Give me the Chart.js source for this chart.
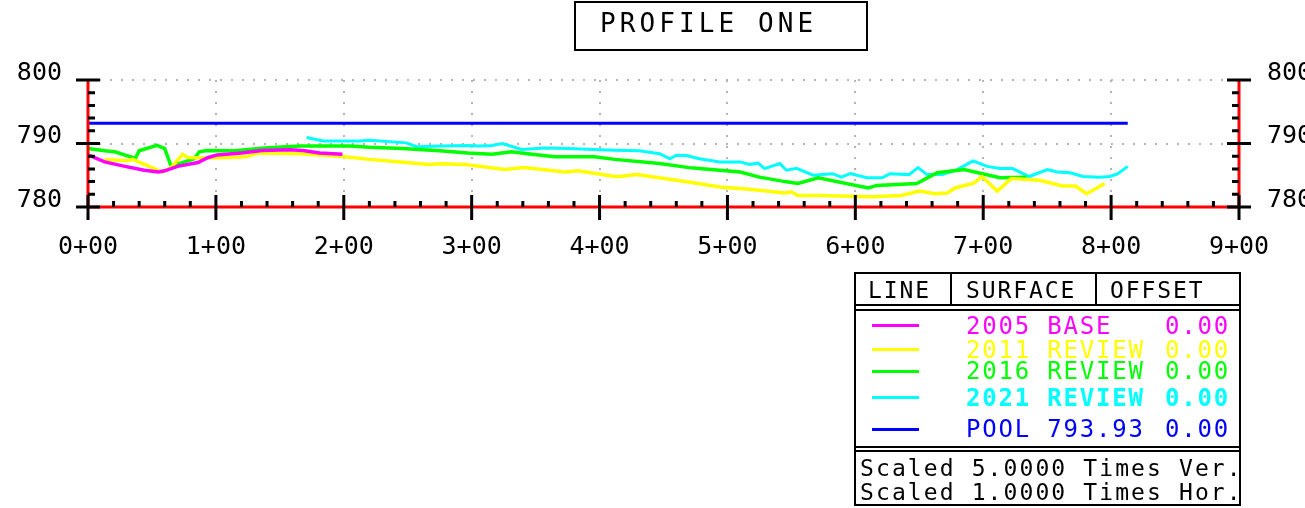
<!DOCTYPE html>
<html>
<head>
<meta charset="utf-8">
<title>Profile One</title>
<script src="https://cdn.jsdelivr.net/npm/chart.js@4.4.1/dist/chart.umd.min.js"></script>
<style>
  html, body { margin: 0; padding: 0; background: #fff; }
  #wrap { position: relative; width: 1305px; height: 508px; overflow: hidden; }
  #wrap canvas { position: absolute; left: 0; top: 0; }
  .cad { position: absolute; font-family: "DejaVu Sans Mono", monospace; white-space: pre; color: #000; }
  .box { position: absolute; box-sizing: border-box; border: 2px solid #000; }
  .rule { position: absolute; background: #000; }
</style>
</head>
<body>
<div id="wrap">
  <canvas id="profile" width="1305" height="508"></canvas>
  <div class="box" style="left:574px;top:1px;width:294px;height:50px"></div>
  <div class="cad" style="left:600px;top:10px;font-size:26px;line-height:26px;letter-spacing:4.1px">PROFILE ONE</div>
  <div id="legend"></div>
</div>
<script>
// station (ft) / elevation pairs
const base2005 = [[0,788.2],[13,787.1],[29,786.4],[44,785.8],[55,785.5],[60,785.7],[70,786.4],[86,787.0],
  [94,787.8],[101,788.2],[120,788.5],[136,788.9],[158,789.0],[168,788.9],[181,788.5],[199,788.3]];

const review2011 = [[13,787.5],[31,787.3],[35,787.5],[58,785.5],[65,786.2],[74,788.3],[78,787.8],[91,787.7],
  [109,787.8],[123,787.9],[133,788.5],[166,788.4],[197,788.0],[220,787.5],[244,787.1],[267,786.7],[275,786.8],
  [295,786.7],[326,785.9],[341,786.2],[373,785.5],[383,785.7],[412,784.8],[416,784.8],[429,785.1],[471,783.9],
  [494,783.15],[517,782.8],[545,782.2],[550,782.4],[555,781.8],[571,781.8],[597,781.7],[613,781.6],[636,781.8],
  [650,782.5],[662,782.1],[672,782.2],[678,783.0],[693,783.8],[699,784.8],[711,782.5],[722,784.5],[744,784.2],
  [762,783.3],[772,783.3],[781,782.1],[795,783.7]];

const review2016 = [[0,789.2],[13,788.85],[21,788.7],[37,787.65],[40,788.85],[54,789.7],[60,789.2],[65,786.4],
  [83,787.6],[87,788.7],[93,788.9],[115,788.85],[138,789.3],[166,789.6],[205,789.6],[220,789.4],[246,789.2],
  [275,788.85],[297,788.5],[316,788.3],[331,788.7],[347,788.3],[365,787.9],[396,787.9],[412,787.5],[447,786.85],
  [470,786.2],[478,786.05],[510,785.5],[525,784.7],[545,784.0],[555,783.7],[571,784.6],[610,783.0],[617,783.4],
  [648,783.7],[664,785.4],[685,785.9],[713,784.6],[734,784.7]];

const review2021 = [[171,790.95],[184,790.4],[212,790.4],[220,790.5],[249,790.1],[257,789.5],[275,789.6],
  [297,789.7],[306,789.6],[316,789.7],[324,790.0],[339,789.05],[357,789.3],[375,789.2],[412,788.95],[431,788.85],
  [447,788.4],[455,787.6],[460,788.15],[468,788.1],[478,787.6],[494,787.1],[510,787.1],[517,786.7],[524,786.9],
  [529,786.05],[541,786.85],[546,785.8],[554,786.1],[567,785.0],[582,785.25],[589,784.7],[596,785.25],
  [609,784.6],[621,784.6],[627,785.25],[642,785.1],[649,786.2],[656,785.1],[668,785.1],[679,785.8],[692,787.25],
  [703,786.4],[713,786.05],[723,786.05],[736,784.8],[750,785.9],[758,785.5],[768,785.4],[778,784.8],[791,784.7],
  [799,784.8],[805,785.2],[813,786.4]];

const pool = [[0,793.2],[813,793.2]];

const stationLabels = ['0+00','1+00','2+00','3+00','4+00','5+00','6+00','7+00','8+00','9+00'];
const elevLabels = ['780','790','800'];

const surfaceNames = ['2005 BASE','2011 REVIEW','2016 REVIEW','2021 REVIEW','POOL 793.93'];
const offsets = ['0.00','0.00','0.00','0.00','0.00'];
const scaleNotes = ['Scaled 5.0000 Times Ver.','Scaled 1.0000 Times Hor.'];

// styling
const lineColors = ['#ff00ff','#ffff00','#00ff00','#00ffff','#0000ff'];
const lineWidths = [3.5, 3.5, 3.5, 3, 3];
const series = [base2005, review2011, review2016, review2021, pool];

const toXY = arr => arr.map(p => ({ x: p[0], y: p[1] }));

/* axis lines + CAD style tick marks */
const axisMarks = {
  id: 'axisMarks',
  afterDraw(chart) {
    const { ctx } = chart;
    const x = chart.scales.x, y = chart.scales.y;
    const l = x.getPixelForValue(0), r = x.getPixelForValue(900);
    const t = y.getPixelForValue(800), b = y.getPixelForValue(780);
    ctx.save();
    ctx.strokeStyle = '#ff0000';
    ctx.lineWidth = 3;
    ctx.beginPath();
    ctx.moveTo(l, t); ctx.lineTo(l, b);
    ctx.moveTo(l, b); ctx.lineTo(r, b);
    ctx.moveTo(r, t); ctx.lineTo(r, b);
    ctx.stroke();

    ctx.strokeStyle = '#000';
    ctx.lineWidth = 3;
    ctx.beginPath();
    for (let s = 0; s <= 900; s += 20) {
      const px = x.getPixelForValue(s);
      if (s % 100 === 0) {
        ctx.moveTo(px, b - 12); ctx.lineTo(px, b + 13);
      } else {
        ctx.moveTo(px, b - 6); ctx.lineTo(px, b);
      }
    }
    for (let e = 780; e <= 800; e += 2) {
      const py = y.getPixelForValue(e);
      if (e % 10 === 0) {
        ctx.moveTo(l - 12, py); ctx.lineTo(l + 12, py);
        ctx.moveTo(r - 12, py); ctx.lineTo(r + 12, py);
      } else {
        ctx.moveTo(l, py); ctx.lineTo(l + 7, py);
        ctx.moveTo(r - 7, py); ctx.lineTo(r, py);
      }
    }
    ctx.stroke();
    ctx.restore();
  }
};

const tickFont = { family: 'DejaVu Sans Mono', size: 25 };
const dotted = { display: false, dash: [2, 9] };

new Chart(document.getElementById('profile'), {
  type: 'line',
  data: {
    datasets: series.map((s, i) => ({
      label: surfaceNames[i],
      data: toXY(s),
      borderColor: lineColors[i],
      borderWidth: lineWidths[i],
      pointRadius: 0,
      tension: 0,
      fill: false
    }))
  },
  options: {
    responsive: false,
    animation: false,
    events: [],
    layout: { padding: { left: 0, right: 0, top: 80, bottom: 241 } },
    plugins: { legend: { display: false }, tooltip: { enabled: false } },
    scales: {
      x: {
        type: 'linear', min: 0, max: 900,
        afterFit: s => { s.height = 60; },
        ticks: { stepSize: 100, padding: 25, color: '#000', font: tickFont, maxRotation: 0, autoSkip: false,
                 callback: (v, i) => stationLabels[i] },
        grid: { color: '#b4b4b4', lineWidth: 2, drawTicks: false },
        border: dotted
      },
      y: {
        min: 780, max: 800, position: 'left',
        afterFit: s => { s.width = 88; },
        ticks: { stepSize: 10, padding: 26, labelOffset: -7, color: '#000', font: tickFont,
                 callback: (v, i) => elevLabels[i] },
        grid: { color: '#b4b4b4', lineWidth: 2, drawTicks: false },
        border: dotted
      },
      y2: {
        min: 780, max: 800, position: 'right',
        afterFit: s => { s.width = 66; },
        ticks: { stepSize: 10, padding: 28, labelOffset: -7, color: '#000', font: tickFont,
                 callback: (v, i) => elevLabels[i] },
        grid: { display: false, drawTicks: false },
        border: { display: false }
      }
    }
  },
  plugins: [axisMarks]
});

/* legend table */
const legendEl = document.getElementById('legend');
const put = html => legendEl.insertAdjacentHTML('beforeend', html);
const rowTop = [314, 338, 359, 386, 417];
const sampleY = [325, 349, 371, 397, 429];
const rowWeight = ['normal','normal','normal','bold','normal'];

put('<div class="box" style="left:854px;top:272px;width:387px;height:234px"></div>');
[304, 309, 446, 450].forEach(t => put(`<div class="rule" style="left:854px;top:${t}px;width:387px;height:2px"></div>`));
[950, 1095].forEach(l => put(`<div class="rule" style="left:${l}px;top:272px;width:2px;height:33px"></div>`));

const head = 'font-size:23px;line-height:23px;letter-spacing:1.9px';
put(`<div class="cad" style="left:868px;top:279px;${head}">LINE</div>`);
put(`<div class="cad" style="left:966px;top:279px;${head}">SURFACE</div>`);
put(`<div class="cad" style="left:1110px;top:279px;${head}">OFFSET</div>`);

surfaceNames.forEach((name, i) => {
  const st = `top:${rowTop[i]}px;font-size:24px;line-height:24px;letter-spacing:1.8px;color:${lineColors[i]};font-weight:${rowWeight[i]}`;
  put(`<div class="rule" style="left:872px;top:${sampleY[i] - 1.5}px;width:47px;height:3px;background:${lineColors[i]}"></div>`);
  put(`<div class="cad" style="left:966px;${st}">${name}</div>`);
  put(`<div class="cad" style="left:1165px;${st}">${offsets[i]}</div>`);
});

scaleNotes.forEach((txt, i) => {
  put(`<div class="cad" style="left:860px;top:${457 + i * 24}px;font-size:23px;line-height:23px;letter-spacing:2.1px">${txt}</div>`);
});
</script>
</body>
</html>
